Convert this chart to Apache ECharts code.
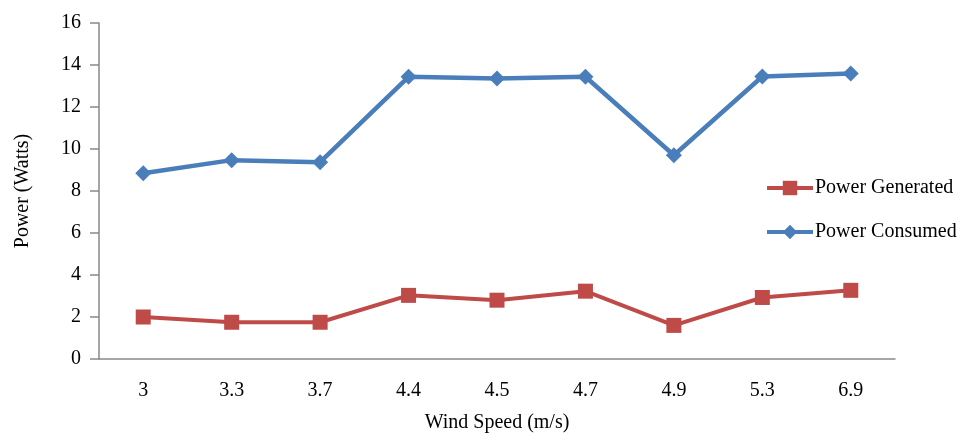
<!DOCTYPE html>
<html>
<head>
<meta charset="utf-8">
<script src="https://cdn.jsdelivr.net/npm/echarts@6/dist/echarts.min.js"></script>
<style>
  html, body { margin: 0; padding: 0; background: #fff; }
  #chart { width: 974px; height: 436px; }
</style>
</head>
<body>
<div id="chart"></div>
<script>
// wind speed categories and the two power series
var windSpeed = ['3', '3.3', '3.7', '4.4', '4.5', '4.7', '4.9', '5.3', '6.9'];
var powerGenerated = [2.0, 1.75, 1.75, 3.03, 2.8, 3.23, 1.6, 2.93, 3.27];
var powerConsumed = [8.85, 9.47, 9.37, 13.44, 13.36, 13.44, 9.7, 13.45, 13.6];

var font = 'Liberation Serif';
var axisGray = '#898989';

var chart = echarts.init(document.getElementById('chart'));

var option = {
    backgroundColor: '#fff',
    animation: false,
    grid: { left: 99, right: 79, top: 23, bottom: 77, outerBoundsMode: 'none' },
    legend: {
        orient: 'vertical',
        left: 760,
        top: 173,
        itemWidth: 46,
        itemHeight: 18,
        itemGap: 24,
        lineStyle: { width: 4 },
        textStyle: { fontFamily: font, fontSize: 20, color: '#000', padding: [0, 0, 0, -3] },
        data: ['Power Generated', 'Power Consumed']
    },
    xAxis: {
        type: 'category',
        data: windSpeed,
        boundaryGap: true,
        name: 'Wind Speed (m/s)',
        nameLocation: 'middle',
        nameGap: 54,
        nameTextStyle: { fontFamily: font, fontSize: 20, color: '#000' },
        axisLine: { lineStyle: { color: axisGray, width: 1.5 } },
        axisTick: { length: 9, lineStyle: { color: axisGray, width: 1.5 } },
        axisLabel: { fontFamily: font, fontSize: 20, color: '#000', margin: 22 },
        splitLine: { show: false }
    },
    yAxis: {
        type: 'value',
        min: 0,
        max: 16,
        interval: 2,
        name: 'Power (Watts)',
        nameLocation: 'middle',
        nameGap: 66,
        nameTextStyle: { fontFamily: font, fontSize: 20, color: '#000' },
        axisLine: { show: true, lineStyle: { color: axisGray, width: 1.5 } },
        axisTick: { show: true, length: 9, lineStyle: { color: axisGray, width: 1.5 } },
        axisLabel: { fontFamily: font, fontSize: 20, color: '#000', margin: 18 },
        splitLine: { show: false }
    },
    series: [
        {
            name: 'Power Generated',
            type: 'line',
            data: powerGenerated,
            symbol: 'rect',
            symbolSize: 15,
            color: '#be4b48',
            lineStyle: { width: 4, color: '#be4b48' },
            itemStyle: { color: '#be4b48' }
        },
        {
            name: 'Power Consumed',
            type: 'line',
            data: powerConsumed,
            symbol: 'diamond',
            symbolSize: 16,
            color: '#4a7ebb',
            lineStyle: { width: 4.5, color: '#4a7ebb' },
            itemStyle: { color: '#4a7ebb' }
        }
    ]
};

chart.setOption(option);
</script>
</body>
</html>
